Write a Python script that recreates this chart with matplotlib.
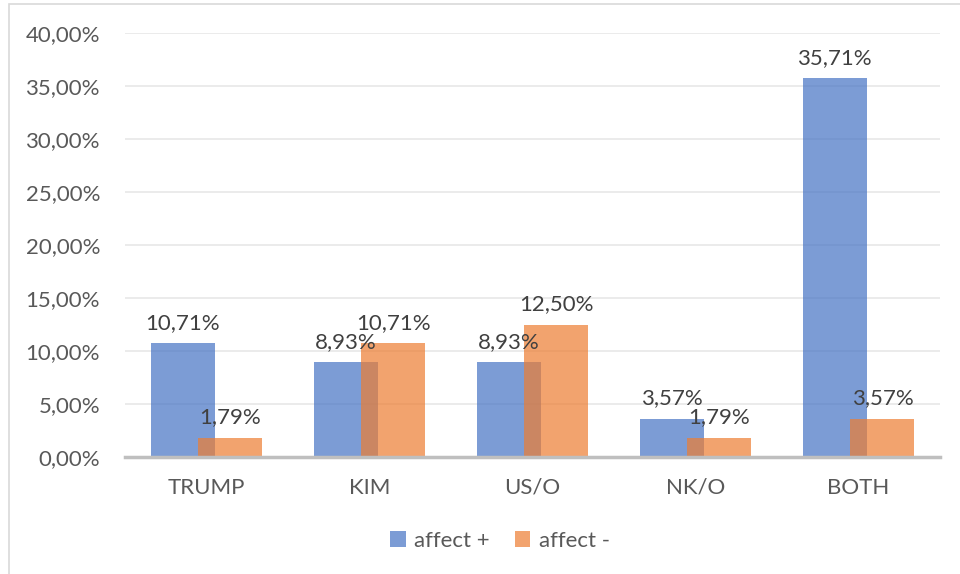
import matplotlib
matplotlib.use("Agg")
import matplotlib.pyplot as plt
from matplotlib.patches import Rectangle, Patch
import numpy as np

categories = ["TRUMP", "KIM", "US/O", "NK/O", "BOTH"]
affect_pos = [10.71, 8.93, 8.93, 3.57, 35.71]
affect_neg = [1.79, 10.71, 12.50, 1.79, 3.57]
y_ticks = [0, 5, 10, 15, 20, 25, 30, 35, 40]

FONT = "Lato"
FS = 16
BLUE = "#4472C4"
ORANGE = "#ED7D31"
ALPHA = 0.7

def pct(v):
    return f"{v:.2f}".replace(".", ",") + "%"

fig = plt.figure(figsize=(9.6, 5.74), dpi=100)
fig.patch.set_facecolor("white")

# outer chart frame
fig.add_artist(Rectangle((9 / 960, -0.05), 1.2, 1 - 4 / 574 + 0.05,
                         transform=fig.transFigure, fill=False,
                         edgecolor="#D9D9D9", linewidth=1.2))

ax = fig.add_axes([125 / 960, 1 - 457 / 574, (940 - 125) / 960, (457 - 33) / 574])

x = np.arange(len(categories))
w = 0.393
off = 0.147

ax.bar(x - off, affect_pos, width=w, color=BLUE, alpha=ALPHA, zorder=3)
ax.bar(x + off, affect_neg, width=w, color=ORANGE, alpha=ALPHA, zorder=4)

for xi, v in zip(x - off, affect_pos):
    ax.text(xi, v + 1.0, pct(v), ha="center", va="bottom",
            fontsize=FS, color="#404040", family=FONT, zorder=6)
for xi, v in zip(x + off, affect_neg):
    ax.text(xi, v + 1.0, pct(v), ha="center", va="bottom",
            fontsize=FS, color="#404040", family=FONT, zorder=6)

ax.set_xlim(-0.5, len(categories) - 0.5)
ax.set_ylim(0, 40)
ax.set_yticks(y_ticks)
ax.set_yticklabels([pct(t) for t in y_ticks], family=FONT, fontsize=FS, color="#595959")
ax.set_xticks(x)
ax.set_xticklabels(categories, family=FONT, fontsize=FS, color="#595959")
ax.tick_params(axis="both", length=0)
ax.tick_params(axis="y", pad=18)
ax.tick_params(axis="x", pad=15)

ax.grid(axis="y", color="#E8E8E8", linewidth=1.2, zorder=0)
for s in ["top", "right", "left"]:
    ax.spines[s].set_visible(False)
ax.spines["bottom"].set_color("#BFBFBF")
ax.spines["bottom"].set_linewidth(2.5)
ax.spines["bottom"].set_zorder(5)

handles = [Patch(facecolor=BLUE, alpha=ALPHA, label="affect +"),
           Patch(facecolor=ORANGE, alpha=ALPHA, label="affect -")]
fig.legend(handles=handles, loc="center", bbox_to_anchor=(500 / 960, 1 - 541 / 574),
           ncol=2, frameon=False, handlelength=0.7, handleheight=0.7,
           handletextpad=0.4, columnspacing=1.1,
           prop={"family": FONT, "size": FS}, labelcolor="#595959")

fig.savefig("out.png", dpi=100, facecolor="white")
